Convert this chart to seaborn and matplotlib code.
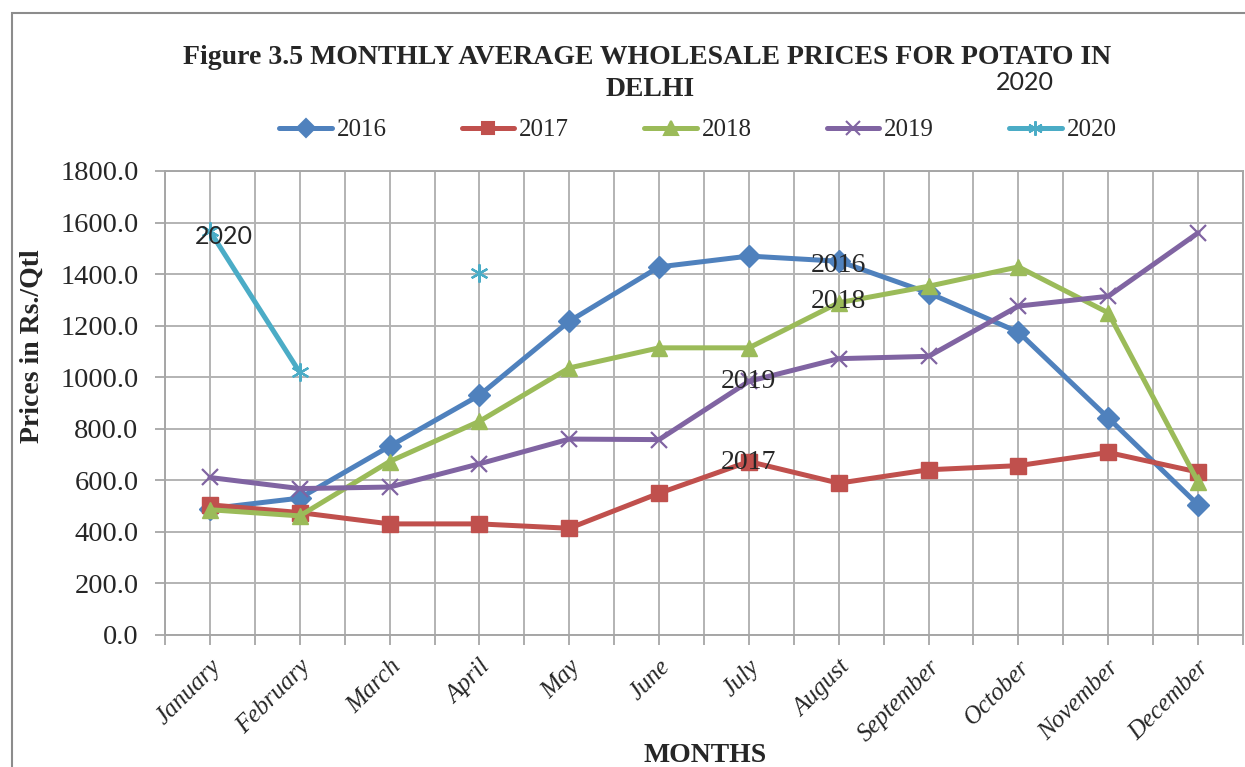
import numpy as np
import pandas as pd
import matplotlib.pyplot as plt
import seaborn as sns
from matplotlib.lines import Line2D
from matplotlib.patches import Rectangle

months = ["January", "February", "March", "April", "May", "June", "July",
          "August", "September", "October", "November", "December"]
years = ["2016", "2017", "2018", "2019", "2020"]

p2016 = [490, 531, 732, 930, 1217, 1428, 1470, 1450, 1327, 1175, 842, 505]
p2017 = [505, 475, 431, 431, 414, 550, 673, 589, 641, 657, 708, 632]
p2018 = [486, 462, 673, 829, 1036, 1114, 1114, 1289, 1353, 1428, 1250, 594]
p2019 = [611, 568, 574, 664, 760, 758, 984, 1072, 1081, 1276, 1314, 1560]
p2020 = [1567, 1019, np.nan, 1406, np.nan, np.nan, np.nan, np.nan, np.nan,
         np.nan, np.nan, np.nan]

colors = ["#4F81BD", "#C0504D", "#9BBB59", "#8064A2", "#4BACC6"]
markers = ["D", "s", "^", "x", (6, 2, 0)]
msizes = [11, 11, 12, 12, 13]

rows = []
for yr, vals in zip(years, [p2016, p2017, p2018, p2019, p2020]):
    seg = 0
    for i, v in enumerate(vals):
        if np.isnan(v):
            seg += 1
            continue
        rows.append({"year": yr, "pos": i, "month": months[i], "price": v, "seg": seg})
df = pd.DataFrame(rows)

sns.set_style("white")
plt.rcParams["font.family"] = ["Liberation Serif", "DejaVu Serif"]

fig = plt.figure(figsize=(12.45, 7.67), dpi=100)
ax = fig.add_axes([165 / 1245, 1 - 635 / 767, (1243 - 165) / 1245, (635 - 171) / 767])

for yr, c, m, ms in zip(years, colors, markers, msizes):
    d = df[df["year"] == yr]
    filled = m in ("D", "s", "^")
    sns.lineplot(data=d, x="pos", y="price", units="seg", estimator=None,
                 color=c, lw=3.6, marker=m, markersize=ms,
                 markeredgecolor=c, markeredgewidth=1.0 if filled else 1.6,
                 legend=False, ax=ax, zorder=3, clip_on=False)

ax.set_xlim(-0.5, 11.5)
ax.set_ylim(0, 1800)
ax.set_yticks(np.arange(0, 1801, 200))
ax.set_yticklabels([f"{v:.1f}" for v in np.arange(0, 1801, 200)], fontsize=20.5)
ax.set_xticks(range(12))
ax.set_xticks(np.arange(-0.5, 12, 1), minor=True)
ax.set_xticklabels(months, rotation=45, ha="right", rotation_mode="anchor",
                   fontsize=18, style="italic")
ax.tick_params(axis="y", which="major", length=7, width=1.3, color="#a6a6a6",
               left=True, pad=12)
ax.tick_params(axis="x", which="both", length=7, width=1.3, color="#a6a6a6",
               bottom=True, pad=8)
ax.grid(True, which="both", axis="x", color="#b3b3b3", lw=1.4)
ax.grid(True, which="major", axis="y", color="#b3b3b3", lw=1.4)
for s in ax.spines.values():
    s.set_color("#a6a6a6")
    s.set_linewidth(1.4)
ax.set_xlabel("")
ax.set_ylabel("")

# series name labels on points
sans = ["Lato", "DejaVu Sans"]
ax.annotate("2020", (0, 1567), xytext=(10, -4), textcoords="offset points",
            ha="center", va="center", fontsize=18, family=sans)
ax.annotate("2016", (7, 1450), xytext=(0, -3), textcoords="offset points",
            ha="center", va="center", fontsize=20)
ax.annotate("2018", (7, 1289), xytext=(0, 1), textcoords="offset points",
            ha="center", va="center", fontsize=20)
ax.annotate("2019", (6, 984), xytext=(0, 0), textcoords="offset points",
            ha="center", va="center", fontsize=20)
ax.annotate("2017", (6, 673), xytext=(0, -1), textcoords="offset points",
            ha="center", va="center", fontsize=20)

# titles and axis labels
fig.text(647 / 1245, 1 - 57 / 767, "Figure 3.5 MONTHLY AVERAGE WHOLESALE PRICES FOR POTATO IN",
         ha="center", va="center", fontsize=20, fontweight="bold")
fig.text(650 / 1245, 1 - 90 / 767, "DELHI", ha="center", va="center",
         fontsize=20, fontweight="bold")
fig.text(1025 / 1245, 1 - 83 / 767, "2020", ha="center", va="center",
         fontsize=18, family=sans)
fig.text(32 / 1245, 1 - 346 / 767, "Prices in Rs./Qtl", rotation=90,
         ha="center", va="center", fontsize=20, fontweight="bold")
fig.text(705 / 1245, 1 - 755 / 767, "MONTHS", ha="center", va="center",
         fontsize=20, fontweight="bold")

handles = [Line2D([], [], color=c, lw=3.6, marker=m, markersize=ms * 0.8,
                  markeredgecolor=c, markeredgewidth=1.5)
           for c, m, ms in zip(colors, markers, msizes)]
fig.legend(handles, years, loc="center", ncol=5, frameon=False,
           bbox_to_anchor=(698 / 1245, 1 - 130 / 767), fontsize=18,
           handlelength=2.1, columnspacing=3.0, handletextpad=0.2)

fig.add_artist(Rectangle((12 / 1245, -0.1), 1.1, 1 - 13 / 767 + 0.1,
                         transform=fig.transFigure, fill=False,
                         ec="#8c8c8c", lw=1.5))

fig.savefig("out.png", dpi=100)
